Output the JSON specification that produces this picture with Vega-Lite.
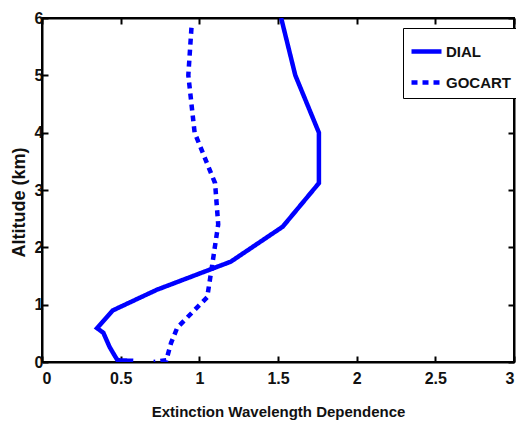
{
  "$schema": "https://vega.github.io/schema/vega-lite/v6.json",
  "width": 472,
  "height": 344,
  "autosize": {"type": "none"},
  "padding": {"left": 42, "top": 18, "right": 2, "bottom": 62},
  "background": "white",
  "config": {
    "view": {"stroke": "black", "strokeWidth": 2},
    "font": "Liberation Sans",
    "axis": {
      "domainColor": "black", "domainWidth": 2, "tickColor": "black", "tickWidth": 2,
      "tickSize": -6, "grid": false, "labelFont": "Liberation Sans",
      "labelFontSize": 16, "labelFontWeight": "bold", "labelColor": "#111",
      "titleFont": "Liberation Sans", "titleFontSize": 15, "titleFontWeight": "bold", "titleColor": "#111"
    }
  },
  "data": {"values": [
    {"series": "DIAL", "i": 1, "ext": 1.52, "alt": 6.0},
    {"series": "DIAL", "i": 2, "ext": 1.61, "alt": 5.0},
    {"series": "DIAL", "i": 3, "ext": 1.76, "alt": 4.0},
    {"series": "DIAL", "i": 4, "ext": 1.76, "alt": 3.12},
    {"series": "DIAL", "i": 5, "ext": 1.53, "alt": 2.36},
    {"series": "DIAL", "i": 6, "ext": 1.20, "alt": 1.75},
    {"series": "DIAL", "i": 7, "ext": 0.73, "alt": 1.26},
    {"series": "DIAL", "i": 8, "ext": 0.45, "alt": 0.9},
    {"series": "DIAL", "i": 9, "ext": 0.35, "alt": 0.59},
    {"series": "DIAL", "i": 10, "ext": 0.39, "alt": 0.51},
    {"series": "DIAL", "i": 11, "ext": 0.43, "alt": 0.26},
    {"series": "DIAL", "i": 12, "ext": 0.46, "alt": 0.12},
    {"series": "DIAL", "i": 13, "ext": 0.48, "alt": 0.03},
    {"series": "DIAL", "i": 14, "ext": 0.58, "alt": 0.02},
    {"series": "GOCART", "i": 1, "ext": 0.95, "alt": 5.83},
    {"series": "GOCART", "i": 2, "ext": 0.93, "alt": 5.0},
    {"series": "GOCART", "i": 3, "ext": 0.97, "alt": 4.0},
    {"series": "GOCART", "i": 4, "ext": 1.10, "alt": 3.12},
    {"series": "GOCART", "i": 5, "ext": 1.12, "alt": 2.4},
    {"series": "GOCART", "i": 6, "ext": 1.08, "alt": 1.66},
    {"series": "GOCART", "i": 7, "ext": 1.05, "alt": 1.13},
    {"series": "GOCART", "i": 8, "ext": 0.86, "alt": 0.6},
    {"series": "GOCART", "i": 9, "ext": 0.82, "alt": 0.33},
    {"series": "GOCART", "i": 10, "ext": 0.79, "alt": 0.03},
    {"series": "GOCART", "i": 11, "ext": 0.71, "alt": 0.0}
  ]},
  "layer": [
    {
      "mark": {"type": "line", "strokeWidth": 4.5, "strokeCap": "butt", "clip": true},
      "encoding": {
        "x": {"field": "ext", "type": "quantitative", "scale": {"domain": [0, 3], "nice": false, "zero": false},
              "axis": {"title": "Extinction Wavelength Dependence", "values": [0, 0.5, 1, 1.5, 2, 2.5, 3], "format": "~g", "labelPadding": 14, "titlePadding": 18}},
        "y": {"field": "alt", "type": "quantitative", "scale": {"domain": [0, 6], "nice": false, "zero": false},
              "axis": {"title": "Altitude (km)", "values": [0, 1, 2, 3, 4, 5, 6], "labelPadding": 5, "titlePadding": 6, "titleFontSize": 18, "titleY": 184}},
        "order": {"field": "i", "type": "quantitative"},
        "color": {"field": "series", "type": "nominal", "scale": {"range": ["#0000ff", "#0000ff"]},
                  "legend": {"title": null, "orient": "none", "legendX": 361, "legendY": 10,
                             "strokeColor": "black", "fillColor": "white", "padding": 6,
                             "symbolType": "stroke", "symbolSize": 900, "symbolStrokeWidth": 4.5,
                             "labelFontSize": 15, "labelFontWeight": "bold", "labelColor": "#111",
                             "labelFont": "Liberation Sans", "rowPadding": 4, "labelOffset": 2}},
        "strokeDash": {"field": "series", "type": "nominal", "scale": {"range": [[1, 0], [6, 5]]}}
      }
    },
    {
      "mark": {"type": "line", "opacity": 0},
      "encoding": {
        "x": {"field": "ext", "type": "quantitative", "scale": {"domain": [0, 3], "nice": false, "zero": false},
              "axis": {"orient": "top", "title": null, "labels": false, "values": [0, 0.5, 1, 1.5, 2, 2.5, 3]}},
        "y": {"field": "alt", "type": "quantitative", "scale": {"domain": [0, 6], "nice": false, "zero": false},
              "axis": {"orient": "right", "title": null, "labels": false, "values": [0, 1, 2, 3, 4, 5, 6]}}
      }
    }
  ],
  "resolve": {"axis": {"x": "independent", "y": "independent"}}
}
